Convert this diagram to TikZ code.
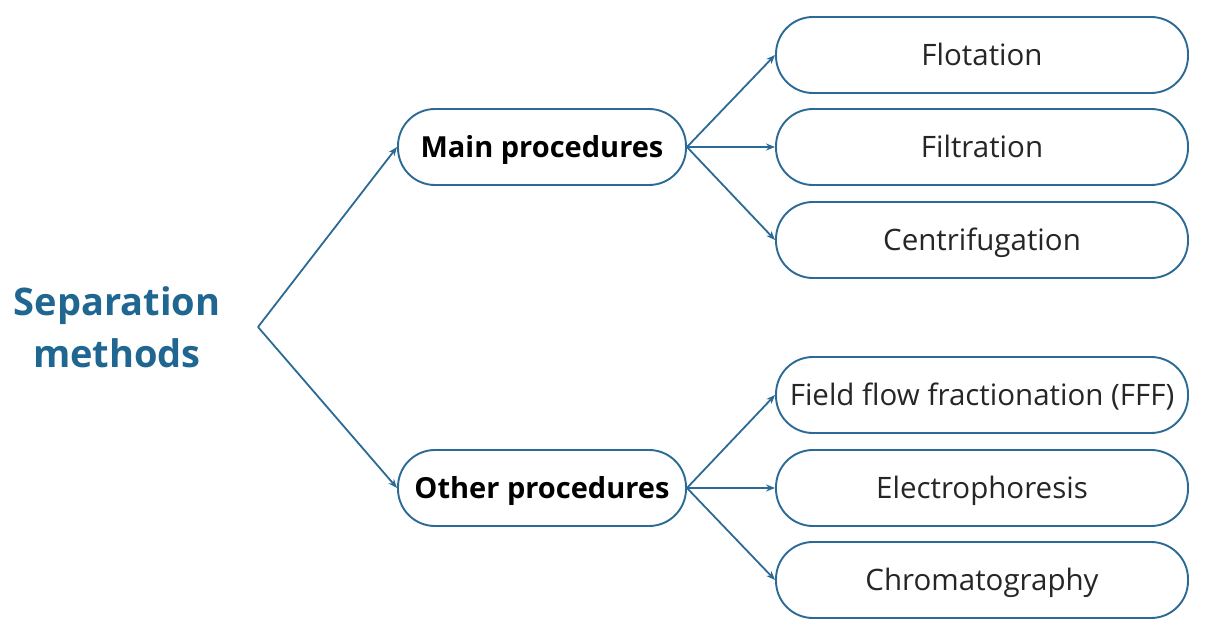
\documentclass[tikz,border=0pt]{standalone}
\usepackage{fontspec}
\setmainfont{Open Sans}
\usetikzlibrary{arrows.meta}
\definecolor{lineblue}{HTML}{2B6A94}
\definecolor{titleblue}{HTML}{1F6690}
\definecolor{txt}{HTML}{262626}
\begin{document}
\begin{tikzpicture}[x=1pt,y=-1pt,
  pill/.style={draw=lineblue,line width=1.9pt,rounded corners=37pt,minimum height=76pt,inner sep=0pt,fill=white,text height=21pt,text depth=0pt},
  midbox/.style={pill,minimum width=288pt,font=\fontsize{29}{34}\selectfont\bfseries,text=black},
  leafbox/.style={pill,minimum width=412pt,font=\fontsize{29.5}{34}\selectfont,text=txt},
  conn/.style={lineblue,line width=1.8pt},
  arr/.style={conn,-{Stealth[length=9pt,width=7pt]}}]
\useasboundingbox (0,0) rectangle (1206,636);
\node[font=\fontsize{38}{52}\selectfont\bfseries,text=titleblue,align=center] (sep) at (117,327) {Separation\\methods};
\coordinate (fork) at (258,327);
\node[midbox] (main) at (542,147) {Main procedures};
\node[midbox] (other) at (542,488) {Other procedures};
\node[leafbox] (flot) at (982,55) {Flotation};
\node[leafbox] (filt) at (982,147) {Filtration};
\node[leafbox] (cent) at (982,240) {Centrifugation};
\node[leafbox] (fff) at (982,395) {Field flow fractionation (FFF)};
\node[leafbox] (elec) at (982,488) {Electrophoresis};
\node[leafbox] (chrom) at (982,580) {Chromatography};
\draw[arr] (fork) -- (main.west);
\draw[arr] (fork) -- (other.west);
\draw[arr] (main.east) -- (flot.west);
\draw[arr] (main.east) -- (filt.west);
\draw[arr] (main.east) -- (cent.west);
\draw[arr] (other.east) -- (fff.west);
\draw[arr] (other.east) -- (elec.west);
\draw[arr] (other.east) -- (chrom.west);
\end{tikzpicture}
\end{document}
